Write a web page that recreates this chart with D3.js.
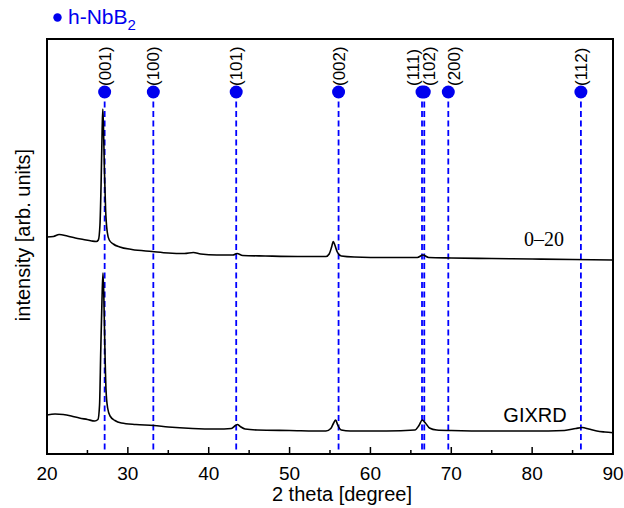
<!DOCTYPE html>
<meta charset="utf-8">
<script src="https://d3js.org/d3.v7.min.js"></script>

<style>
    body { margin: 0; background: #fff; }
    text { font-family: "Liberation Sans", Arial, sans-serif; fill: #000; }
    .scan { fill: none; stroke: #000; stroke-width: 1.6; stroke-linejoin: round; }
    .refLine { stroke: #0000ff; stroke-width: 1.8; stroke-dasharray: 6,3.5; }
    .refDot { fill: #0000ee; }
</style>

<div id="vis"></div>

<script>
    // h-NbB2 reference reflections
    var refPeaks = [27.13, 33.15, 43.4, 56.06, 66.38, 66.66, 69.63, 86.03]
    var refLabels = ["(001)", "(100)", "(101)", "(002)", "(111)", "(102)", "(200)", "(112)"]

    // x axis ticks
    var xMajorTicks = [20, 30, 40, 50, 60, 70, 80, 90]
    var xMinorTicks = [25, 35, 45, 55, 65, 75, 85]

    // theta-2theta scan, [2 theta, intensity (arb.)]
    var scanTheta = [
        [20, 217], [20.8, 217.5], [21.5, 219.5], [22.5, 218], [23.5, 216], [24.5, 214.5],
        [25.5, 213], [26.1, 212.5], [26.35, 214], [26.55, 229], [26.7, 274], [26.82, 324],
        [26.9, 345], [26.98, 329], [27.1, 284], [27.25, 244], [27.45, 222], [27.7, 214],
        [28.2, 210], [29, 207], [30.5, 204.5], [33, 202.5], [35, 201], [37, 200.5],
        [38.1, 201.5], [39, 200], [41, 199], [43, 199], [43.5, 200.5], [44.2, 198.5],
        [47, 198], [51, 197.5], [54.5, 197.5], [54.9, 200], [55.2, 207], [55.4, 212.5],
        [55.6, 209], [55.9, 202], [56.4, 198], [58, 197], [62, 196.5], [65.8, 196.5],
        [66.5, 199], [67.2, 196.5], [70, 196], [75, 195.5], [80, 195], [85, 194.5], [90, 194]
    ]

    // GIXRD scan, [2 theta, intensity (arb.)]
    var scanGixrd = [
        [20, 39], [21, 40], [22, 39.5], [23, 38], [24, 36], [25, 34.5], [25.9, 33],
        [26.3, 34.5], [26.5, 49], [26.65, 104], [26.8, 154], [26.92, 181], [27.02, 161],
        [27.15, 109], [27.3, 64], [27.5, 46], [27.8, 38], [28.4, 33.5], [29.2, 31],
        [31, 29.5], [33.2, 28.5], [35, 27], [38, 25.5], [41, 25], [42.8, 25.5],
        [43.3, 28.5], [43.55, 29.5], [43.9, 27.5], [44.5, 25], [46, 24], [50, 23.5],
        [54.5, 23], [55.1, 25.5], [55.45, 31], [55.7, 34], [55.95, 29], [56.4, 24],
        [57.5, 23], [62, 23], [65.5, 24], [66, 28.5], [66.4, 34], [66.8, 31], [67.3, 26],
        [68.2, 24], [70, 23.5], [75, 23], [80, 23], [84, 23.5], [85.4, 25.5], [86.2, 26.5],
        [87, 25], [88, 23], [89, 22], [90, 21.3]
    ]

    var margin = {top: 39, right: 11, bottom: 54, left: 47}
    var width = 624 - margin.left - margin.right
    var height = 508 - margin.top - margin.bottom

    var svg = d3.select("#vis")
    .append("svg")
    .attr("width", 624)
    .attr("height", 508)

    var g = svg.append("g")
    .attr("transform", "translate(" + margin.left + "," + margin.top + ")")

    var x = d3.scaleLinear().domain([20, 90]).range([0, width])
    var y = d3.scaleLinear().domain([0, 415]).range([height, 0])

    // dashed reference lines + dots
    var dotY = 53
    g.selectAll(".refLine")
    .data(refPeaks)
    .enter()
    .append("line")
    .attr("class", "refLine")
    .attr("x1", function (d) { return x(d) })
    .attr("x2", function (d) { return x(d) })
    .attr("y1", dotY)
    .attr("y2", height)

    // scans
    var line = d3.line()
    .x(function (d) { return x(d[0]) })
    .y(function (d) { return y(d[1]) })
    .curve(d3.curveMonotoneX)

    g.append("path").attr("class", "scan").attr("d", line(scanTheta))
    g.append("path").attr("class", "scan").attr("d", line(scanGixrd))

    g.selectAll(".refDot")
    .data(refPeaks)
    .enter()
    .append("circle")
    .attr("class", "refDot")
    .attr("cx", function (d) { return x(d) })
    .attr("cy", dotY)
    .attr("r", 6.5)

    // labels, overlapping ones nudged sideways
    var nudge = {"(111)": -9, "(102)": 5, "(200)": 6}
    g.selectAll(".peakLabel")
    .data(refPeaks)
    .enter()
    .append("text")
    .attr("class", "peakLabel")
    .attr("transform", function (d, i) {
        var dx = nudge[refLabels[i]] || 0
        return "translate(" + (x(d) + dx) + "," + (dotY - 6) + ") rotate(-90)"
    })
    .attr("dy", "0.35em")
    .style("font-size", "17px")
    .text(function (d, i) { return refLabels[i] })

    // bottom ticks (inward)
    g.selectAll(".majorTick")
    .data(xMajorTicks)
    .enter()
    .append("line")
    .attr("x1", function (d) { return x(d) })
    .attr("x2", function (d) { return x(d) })
    .attr("y1", height)
    .attr("y2", height - 7)
    .attr("stroke", "#000")
    .attr("stroke-width", 1.5)

    g.selectAll(".minorTick")
    .data(xMinorTicks)
    .enter()
    .append("line")
    .attr("x1", function (d) { return x(d) })
    .attr("x2", function (d) { return x(d) })
    .attr("y1", height)
    .attr("y2", height - 4)
    .attr("stroke", "#000")
    .attr("stroke-width", 1.5)

    g.selectAll(".tickLabel")
    .data(xMajorTicks)
    .enter()
    .append("text")
    .attr("x", function (d) { return x(d) })
    .attr("y", height + 26)
    .attr("text-anchor", "middle")
    .style("font-size", "19px")
    .text(function (d) { return d })

    // frame
    g.append("rect")
    .attr("width", width)
    .attr("height", height)
    .attr("fill", "none")
    .attr("stroke", "#000")
    .attr("stroke-width", 2)

    // axis titles
    svg.append("text")
    .attr("x", 342)
    .attr("y", 501)
    .attr("text-anchor", "middle")
    .style("font-size", "20px")
    .text("2 theta [degree]")

    svg.append("text")
    .attr("transform", "translate(30,235) rotate(-90)")
    .attr("text-anchor", "middle")
    .style("font-size", "20px")
    .text("intensity [arb. units]")

    // series labels
    svg.append("text")
    .attr("x", 544)
    .attr("y", 246)
    .attr("text-anchor", "middle")
    .style("font-family", "'Liberation Serif', 'Times New Roman', serif")
    .style("font-size", "20px")
    .text("0–20")

    svg.append("text")
    .attr("x", 535)
    .attr("y", 422)
    .attr("text-anchor", "middle")
    .style("font-size", "20px")
    .text("GIXRD")

    // legend
    svg.append("circle")
    .attr("cx", 57.5)
    .attr("cy", 17.5)
    .attr("r", 4.2)
    .attr("fill", "#0000ee")

    var leg = svg.append("text")
    .attr("x", 68)
    .attr("y", 24)
    .style("font-size", "21px")
    .style("fill", "#0000ee")
    leg.append("tspan").text("h-NbB")
    leg.append("tspan").attr("dy", 6).style("font-size", "15px").text("2")
</script>
